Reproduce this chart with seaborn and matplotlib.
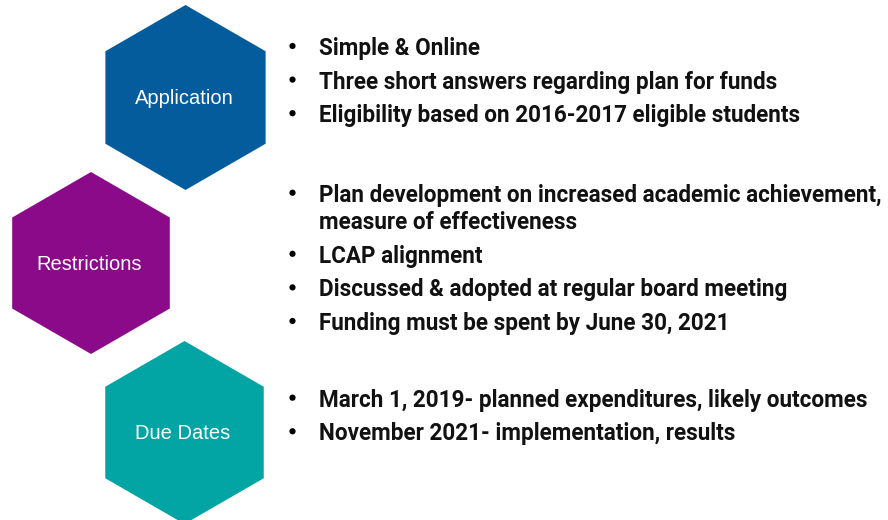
import matplotlib.pyplot as plt
import numpy as np
import seaborn as sns
from matplotlib.patches import Polygon

# Diagram content
CATEGORIES = ["Application", "Restrictions", "Due Dates"]
HEX_COLORS = ["#045C9C", "#8B0A8A", "#02A4A4"]
APPLICATION_ITEMS = [
    "Simple & Online",
    "Three short answers regarding plan for funds",
    "Eligibility based on 2016-2017 eligible students",
]
RESTRICTION_ITEMS = [
    "Plan development on increased academic achievement,\nmeasure of effectiveness",
    "LCAP alignment",
    "Discussed & adopted at regular board meeting",
    "Funding must be spent by June 30, 2021",
]
DUE_DATE_ITEMS = [
    "March 1, 2019- planned expenditures, likely outcomes",
    "November 2021- implementation, results",
]

# Layout (pixels, origin top-left)
W, H = 888, 520
HEX_CENTERS = [(185.5, 97.5), (91, 263), (184.5, 432.5)]
HEX_RADII = [92.5, 91, 91.5]
GROUP_BASELINE_Y = [55, 201.7, 406.7]
ITEM_STEP = 33.6
WRAP_STEP = 27.5
BULLET_X = 292.5
BULLET_RISE = 9
TEXT_X = 319
REF_LINE_WIDTH = 481  # width of the "Eligibility ..." line in the reference

sns.set_theme(style="white")
plt.rcParams["font.family"] = ["Roboto", "DejaVu Sans"]

fig = plt.figure(figsize=(W / 100, H / 100), dpi=100)
ax = fig.add_axes([0, 0, 1, 1])
ax.set_xlim(0, W)
ax.set_ylim(H, 0)
ax.axis("off")


def hexagon(cx, cy, r):
    ang = np.deg2rad(np.arange(6) * 60 + 90)
    return np.column_stack([cx + r * np.cos(ang), cy - r * np.sin(ang)])


for name, color, (cx, cy), r in zip(CATEGORIES, HEX_COLORS, HEX_CENTERS, HEX_RADII):
    ax.add_patch(Polygon(hexagon(cx, cy, r), closed=True, facecolor=color,
                         edgecolor="none"))
    ax.text(cx - 1.5, cy + 1, name, color="white", fontsize=14.5, ha="center",
            va="center", family=["Liberation Sans", "DejaVu Sans"])

texts = []
bullet_y = []
for items, y0 in zip([APPLICATION_ITEMS, RESTRICTION_ITEMS, DUE_DATE_ITEMS],
                     GROUP_BASELINE_Y):
    y = y0
    for item in items:
        bullet_y.append(y - BULLET_RISE)
        lines = item.split("\n")
        for k, line in enumerate(lines):
            texts.append(ax.text(TEXT_X, y, line, fontsize=13.5, fontweight="bold",
                                 color="#111111", ha="left", va="baseline"))
            if k < len(lines) - 1:
                y += WRAP_STEP
        y += ITEM_STEP

# scale the bullet font so the line widths follow the reference
fig.canvas.draw()
renderer = fig.canvas.get_renderer()
ref_w = texts[2].get_window_extent(renderer).width
size = 13.5 * REF_LINE_WIDTH / ref_w
for t in texts:
    t.set_fontsize(size)

sns.scatterplot(x=[BULLET_X] * len(bullet_y), y=bullet_y, ax=ax, color="black",
                s=20, edgecolor="none", legend=False)

fig.savefig("out.png", dpi=100)
